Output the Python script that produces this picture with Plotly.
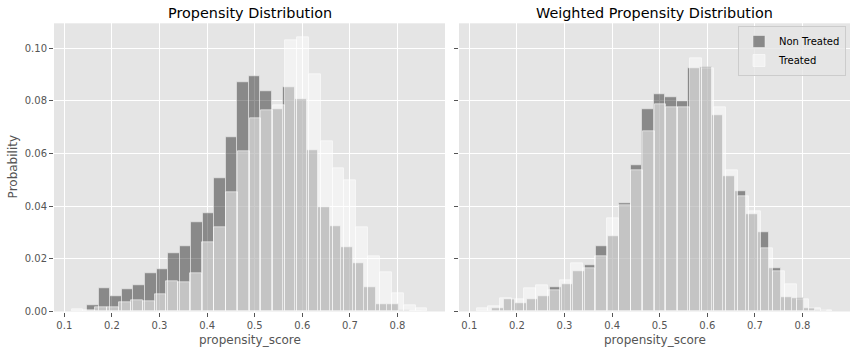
import numpy as np
import plotly.graph_objects as go

# ---- data ----
# bin layout (same bins used in both panels)
ctrl_bin_start = 0.1483
ctrl_bin_width = 0.02424
treat_bin_start = 0.1153
treat_bin_width = 0.02492

# Propensity Distribution (unweighted), probability per bin
ctrl_unweighted = [0.0025, 0.0087, 0.0056, 0.0084, 0.0099, 0.0144, 0.0159, 0.0223, 0.0249, 0.0338,
                   0.0372, 0.0508, 0.0662, 0.0871, 0.0893, 0.0836, 0.0770, 0.0851, 0.0808, 0.0613,
                   0.0397, 0.0325, 0.0245, 0.0184, 0.0093, 0.0028, 0.0027, 0.0005, 0.0002]
treat_unweighted = [0.0008, 0.0006, 0.0017, 0.0017, 0.0036, 0.0044, 0.0040, 0.0067, 0.0114, 0.0110,
                    0.0147, 0.0263, 0.0320, 0.0452, 0.0610, 0.0734, 0.0763, 0.0785, 0.1030, 0.1043,
                    0.0902, 0.0645, 0.0543, 0.0499, 0.0321, 0.0211, 0.0150, 0.0069, 0.0023, 0.0012]

# Weighted Propensity Distribution
ctrl_weighted = [0.0014, 0.0047, 0.0032, 0.0047, 0.0058, 0.0093, 0.0104, 0.0154, 0.0175, 0.0249,
                 0.0286, 0.0410, 0.0554, 0.0768, 0.0825, 0.0813, 0.0797, 0.0924, 0.0928, 0.0747,
                 0.0515, 0.0455, 0.0371, 0.0300, 0.0165, 0.0055, 0.0051, 0.0013, 0.0005]
treat_weighted = [0.0014, 0.0019, 0.0052, 0.0047, 0.0090, 0.0098, 0.0080, 0.0117, 0.0184, 0.0166,
                  0.0210, 0.0353, 0.0404, 0.0537, 0.0686, 0.0789, 0.0777, 0.0776, 0.0963, 0.0925,
                  0.0776, 0.0537, 0.0436, 0.0382, 0.0239, 0.0152, 0.0105, 0.0048, 0.0013, 0.0006]

titles = ["Propensity Distribution", "Weighted Propensity Distribution"]
x_label = "propensity_score"
y_label = "Probability"
series_names = ["Non Treated", "Treated"]
x_ticks = [0.1, 0.2, 0.3, 0.4, 0.5, 0.6, 0.7, 0.8]
y_ticks = [0.00, 0.02, 0.04, 0.06, 0.08, 0.10]

# ---- figure ----
W, H = 856, 352
FONT = "DejaVu Sans"
TICK_COL = "#555555"


def centers(start, width, n):
    return start + width * (np.arange(n) + 0.5)


ctrl_style = dict(color="rgba(0,0,0,0.40)", line=dict(color="rgba(240,240,240,0.55)", width=1))
treat_style = dict(color="rgba(255,255,255,0.50)", line=dict(color="rgba(255,255,255,0.55)", width=1))

fig = go.Figure()
panels = [(ctrl_unweighted, treat_unweighted, "x", "y", False),
          (ctrl_weighted, treat_weighted, "x2", "y2", True)]
for ctrl, treat, xa, ya, show in panels:
    fig.add_trace(go.Bar(x=centers(ctrl_bin_start, ctrl_bin_width, len(ctrl)), y=ctrl,
                         width=ctrl_bin_width, marker=ctrl_style, name=series_names[0],
                         xaxis=xa, yaxis=ya, showlegend=show, hoverinfo="x+y"))
    fig.add_trace(go.Bar(x=centers(treat_bin_start, treat_bin_width, len(treat)), y=treat,
                         width=treat_bin_width, marker=treat_style, name=series_names[1],
                         xaxis=xa, yaxis=ya, showlegend=show, hoverinfo="x+y"))

# axes geometry (pixels -> paper)
lx0, lx1 = 54, 445
rx0, rx1 = 459, 850
ybot, ytop = 311.5, 23.3
dom_y = [(H - ybot) / H, (H - ytop) / H]
x_range = [0.1 - (64.3 - lx0) / 476.0, 0.1 + (lx1 - 64.3) / 476.0]
y_range = [0, 0.1095]

xaxis_common = dict(range=x_range, tickvals=x_ticks, ticktext=[f"{v:.1f}" for v in x_ticks],
                    showgrid=True, gridcolor="white", gridwidth=1, zeroline=False,
                    ticks="outside", ticklen=4, tickwidth=1, tickcolor=TICK_COL,
                    tickfont=dict(family=FONT, size=10, color=TICK_COL), showline=False,
                    automargin=False)
yaxis_common = dict(range=y_range, tickvals=y_ticks, showgrid=True, gridcolor="white", gridwidth=1,
                    zeroline=False, ticks="outside", ticklen=4, tickwidth=1, tickcolor=TICK_COL,
                    tickfont=dict(family=FONT, size=10, color=TICK_COL), showline=False, domain=dom_y,
                    automargin=False)

fig.update_layout(
    width=W, height=H, margin=dict(l=0, r=0, t=0, b=0, autoexpand=False),
    paper_bgcolor="white", plot_bgcolor="#E5E5E5",
    barmode="overlay", bargap=0,
    font=dict(family=FONT, size=10, color=TICK_COL),
    xaxis=dict(domain=[lx0 / W, lx1 / W], anchor="y", **xaxis_common),
    xaxis2=dict(domain=[rx0 / W, rx1 / W], anchor="y2", **xaxis_common),
    yaxis=dict(anchor="x", tickformat=".2f", **yaxis_common),
    yaxis2=dict(anchor="x2", matches="y", showticklabels=False, **yaxis_common),
    legend=dict(x=(rx1 - 4) / W, xanchor="right", y=(H - 26) / H, yanchor="top",
                bgcolor="rgba(229,229,229,0.8)", bordercolor="#CCCCCC", borderwidth=1,
                font=dict(family=FONT, size=10, color="black"), tracegroupgap=0),
    showlegend=True,
)

ann = []
for title, (a, b) in zip(titles, [(lx0, lx1), (rx0, rx1)]):
    ann.append(dict(text=title, x=(a + b) / 2 / W, y=(H - 13) / H, xref="paper", yref="paper",
                    xanchor="center", yanchor="middle", showarrow=False,
                    font=dict(family=FONT, size=14.4, color="black")))
    ann.append(dict(text=x_label, x=(a + b) / 2 / W, y=(H - 340) / H, xref="paper", yref="paper",
                    xanchor="center", yanchor="middle", showarrow=False,
                    font=dict(family=FONT, size=12, color=TICK_COL)))
ann.append(dict(text=y_label, x=13 / W, y=(H - (ybot + ytop) / 2) / H, xref="paper", yref="paper",
                xanchor="center", yanchor="middle", showarrow=False, textangle=-90,
                font=dict(family=FONT, size=12, color=TICK_COL)))
fig.update_layout(annotations=ann)

fig.write_html("out.html")
